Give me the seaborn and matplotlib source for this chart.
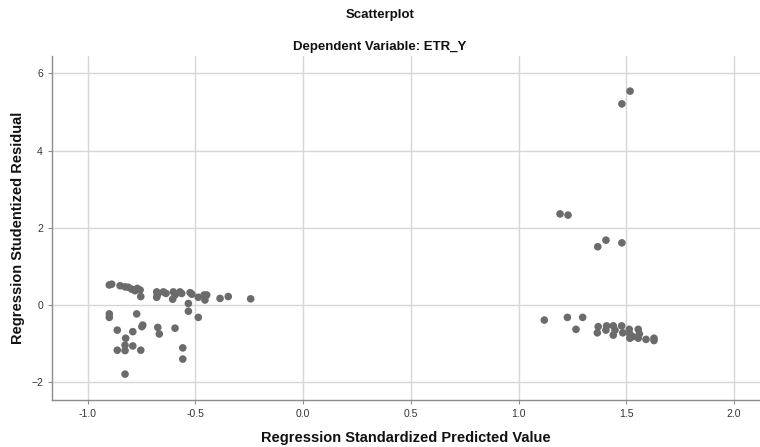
import matplotlib
matplotlib.use("Agg")
import matplotlib.pyplot as plt
import numpy as np
import pandas as pd
import seaborn as sns

# left cluster (predicted value, studentized residual)
left_x = [-0.900, -0.889, -0.850, -0.827, -0.812, -0.796, -0.781, -0.770, -0.757, -0.754,
          -0.680, -0.677, -0.680, -0.649, -0.637, -0.603, -0.595, -0.606, -0.572, -0.564,
          -0.525, -0.517, -0.487, -0.460, -0.456, -0.448, -0.386, -0.348, -0.244,
          -0.533, -0.533, -0.487, -0.900, -0.900, -0.773, -0.745, -0.749, -0.863, -0.791,
          -0.675, -0.668, -0.595, -0.824, -0.827, -0.863, -0.827, -0.791, -0.754, -0.559,
          -0.559, -0.827]
left_y = [0.52, 0.54, 0.50, 0.47, 0.46, 0.41, 0.37, 0.43, 0.39, 0.22,
          0.34, 0.26, 0.20, 0.34, 0.30, 0.34, 0.26, 0.15, 0.34, 0.30,
          0.32, 0.28, 0.20, 0.26, 0.13, 0.26, 0.17, 0.22, 0.16,
          0.04, -0.16, -0.32, -0.23, -0.32, -0.23, -0.52, -0.56, -0.65, -0.69,
          -0.58, -0.75, -0.60, -0.86, -1.04, -1.17, -1.18, -1.06, -1.17, -1.11,
          -1.40, -1.79]

# right cluster
right_x = [1.517, 1.479, 1.192, 1.229, 1.367, 1.405, 1.479,
           1.119, 1.226, 1.297, 1.266,
           1.369, 1.365, 1.408, 1.405, 1.439, 1.447, 1.439, 1.478, 1.483,
           1.513, 1.516, 1.516, 1.529, 1.555, 1.560, 1.555, 1.591, 1.628, 1.628]
right_y = [5.54, 5.21, 2.36, 2.33, 1.51, 1.68, 1.61,
           -0.39, -0.32, -0.32, -0.63,
           -0.56, -0.72, -0.54, -0.65, -0.54, -0.65, -0.78, -0.54, -0.72,
           -0.63, -0.75, -0.86, -0.82, -0.63, -0.75, -0.86, -0.89, -0.86, -0.92]

x_ticks = [-1.0, -0.5, 0.0, 0.5, 1.0, 1.5, 2.0]
y_ticks = [-2, 0, 2, 4, 6]

df = pd.DataFrame({"pred": left_x + right_x, "resid": left_y + right_y})

sns.set_style("white")
plt.rcParams["font.family"] = ["Liberation Sans", "DejaVu Sans"]

fig = plt.figure(figsize=(7.6, 4.47), dpi=100)
ax = fig.add_axes([52 / 760, 47 / 447, 708 / 760, 344 / 447])

sns.scatterplot(data=df, x="pred", y="resid", ax=ax, color="#6b6b6b",
                s=30, edgecolor="none", zorder=3)

ax.set_xlim(-1.166, 2.12)
ax.set_ylim(-2.46, 6.45)
ax.set_xticks(x_ticks)
ax.set_xticklabels([f"{v:.1f}" for v in x_ticks])
ax.set_yticks(y_ticks)
ax.grid(True, color="#d6d6d6", linewidth=1.0, zorder=0)
for s in ["top", "right"]:
    ax.spines[s].set_visible(False)
for s in ["left", "bottom"]:
    ax.spines[s].set_color("#8c8c8c")
    ax.spines[s].set_linewidth(1.0)
ax.tick_params(axis="both", labelsize=7.5, colors="#333333", length=3,
               color="#8c8c8c", left=True, bottom=True)
ax.set_xlabel("")
ax.set_ylabel("")

fig.text(406 / 760, 1 - 438 / 447, "Regression Standardized Predicted Value",
         ha="center", va="center", fontsize=10.5, fontweight="bold", color="#111111")
fig.text(18 / 760, 1 - 228 / 447, "Regression Studentized Residual",
         ha="center", va="center", rotation=90, fontsize=10.5,
         fontweight="bold", color="#111111")

fig.text(0.5, 1 - 15 / 447, "Scatterplot", ha="center", va="center",
         fontsize=9.5, fontweight="bold", color="#111111")
fig.text(0.5, 1 - 47 / 447, "Dependent Variable: ETR_Y", ha="center", va="center",
         fontsize=9.5, fontweight="bold", color="#111111")

fig.savefig("out.png", dpi=100)
